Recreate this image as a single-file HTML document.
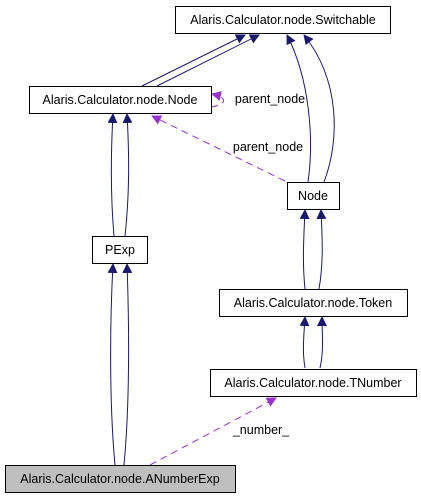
<!DOCTYPE html>
<html><head><meta charset="utf-8"><style>
html,body{margin:0;padding:0;background:#fff;}
svg{display:block;font-family:"Liberation Sans",Arial,sans-serif;font-size:12.5px;}
</style></head><body>
<svg width="421" height="499" viewBox="0 0 421 499" xmlns="http://www.w3.org/2000/svg">
<defs>
<marker id="b" markerWidth="10" markerHeight="10" refX="9" refY="5" orient="auto" markerUnits="userSpaceOnUse"><path d="M0,0 L10,5 L0,10 z" fill="#191970"/></marker>
<marker id="p" markerWidth="10" markerHeight="10" refX="9" refY="5" orient="auto" markerUnits="userSpaceOnUse"><path d="M0,0 L10,5 L0,10 z" fill="#9a32cd"/></marker>
</defs>
<g fill="none" stroke="#191970" stroke-width="1">
<path d="M142,86 L245,35" marker-end="url(#b)"/>
<path d="M157,86 L259,35" marker-end="url(#b)"/>
<path d="M308,182 C314,140 310,80 287,35" marker-end="url(#b)"/>
<path d="M324,182 C340,140 340,80 304,35" marker-end="url(#b)"/>
<path d="M114,236 C110,190 111,150 113,114" marker-end="url(#b)"/>
<path d="M125,236 C130,190 129,150 127,114" marker-end="url(#b)"/>
<path d="M115,465 C109,400 110,320 113,264" marker-end="url(#b)"/>
<path d="M124,465 C130,400 129,320 127,264" marker-end="url(#b)"/>
<path d="M305,289 C302,260 304,235 305,210" marker-end="url(#b)"/>
<path d="M319,289 C324,260 322,235 321,210" marker-end="url(#b)"/>
<path d="M305,368 C302,350 304,335 305,317" marker-end="url(#b)"/>
<path d="M320,368 C324,350 322,335 322,317" marker-end="url(#b)"/>
</g>
<g fill="none" stroke="#9a32cd" stroke-width="1" stroke-dasharray="7,5">
<path d="M285,181 L152,116" marker-end="url(#p)"/>
<path d="M211,107 C225,105 230,98 212,94" marker-end="url(#p)"/>
<path d="M150,465 L276,398" marker-end="url(#p)"/>
</g>
<g stroke="#000" stroke-width="1">
<rect x="175.5" y="6.5" width="215" height="27" fill="#fff"/>
<rect x="29.5" y="86.5" width="182" height="27" fill="#fff"/>
<rect x="287.5" y="182.5" width="52" height="27" fill="#fff"/>
<rect x="92.5" y="236.5" width="55" height="27" fill="#fff"/>
<rect x="219.5" y="289.5" width="188" height="27" fill="#fff"/>
<rect x="210.5" y="369.5" width="206" height="27" fill="#fff"/>
<rect x="5.5" y="465.5" width="230" height="27" fill="#bfbfbf"/>
</g>
<g fill="#000" text-anchor="middle">
<text x="283" y="24">Alaris.Calculator.node.Switchable</text>
<text x="120" y="104">Alaris.Calculator.node.Node</text>
<text x="313" y="200">Node</text>
<text x="120" y="254">PExp</text>
<text x="313" y="307">Alaris.Calculator.node.Token</text>
<text x="313" y="387">Alaris.Calculator.node.TNumber</text>
<text x="120" y="483">Alaris.Calculator.node.ANumberExp</text>
<text x="270" y="103">parent_node</text>
<text x="268" y="151">parent_node</text>
<text x="261" y="434">_number_</text>
</g>
</svg>
</body></html>
